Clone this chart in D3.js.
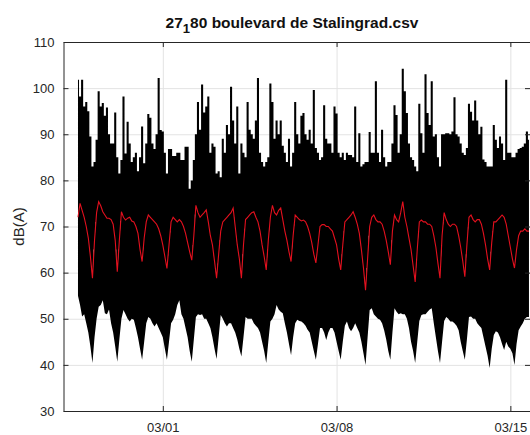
<!DOCTYPE html>
<html>
<head>
<meta charset="utf-8">
<script src="https://cdn.jsdelivr.net/npm/d3@7"></script>
<style>
body { margin: 0; background: #fff; }
svg text { font-family: "Liberation Sans", Arial, sans-serif; }
</style>
</head>
<body>
<div id="chart"></div>
<script>
// samples every 2 hours, starting 25 Feb 14:00
var startTime = new Date(2019, 1, 25, 14);
var stepHours = 2;

// upper edge of the raw signal, dB(A)
var hiDb = [101.8, 98.2, 101.8, 96, 97,
  95, 89.5, 83, 84, 88.8, 99.3, 96, 96.8, 94, 95.8, 90, 88,
  88, 94.7, 85, 81.5, 84.4, 98.2, 85.8, 92.7, 88, 84, 85, 86,
  82, 85, 91.7, 83.7, 88, 94.4, 93.6, 88, 86.8, 90, 102.2, 90.9,
  90.6, 86, 81.5, 86.8, 86.8, 85.3, 85.3, 86, 86, 84.4, 84.4, 87.3,
  87.3, 78.2, 80, 84.4, 90, 97, 91, 100.8, 94.7, 96, 98.2, 86,
  88, 87.3, 81.5, 82, 80.7, 89, 86, 92, 90, 100.3, 93, 88,
  96, 81.5, 88, 86, 85, 97, 91, 90, 89, 93, 102.2, 86,
  84, 83, 84, 85, 101, 97, 89, 93, 90, 93, 87.5, 86,
  84, 89, 83, 86, 97, 90, 88, 94, 94.6, 90, 88.8, 91,
  88, 99.6, 87, 86, 84.4, 85, 96.3, 89, 88, 88, 86, 96,
  94.5, 86, 85, 86, 84.4, 86, 85.5, 85.5, 85, 96, 84, 90.2,
  83, 83.5, 84, 84, 90.5, 86, 86, 101.5, 86, 84, 91, 85,
  83, 84, 84, 88, 96.3, 94.2, 86, 90, 104.2, 99.3, 94.6, 88,
  85, 84.4, 83, 82, 96.6, 90.2, 86, 103, 94.6, 92, 101.5, 89.5,
  90, 85, 83, 90, 90, 90.2, 90.2, 90, 90.6, 98, 90, 89.5,
  88, 86, 85.5, 87, 96.6, 94.9, 93, 97.3, 93, 90, 91.6, 84.5,
  84, 83, 83, 83, 92, 88.8, 87, 89.5, 88, 84.4, 101.8, 86,
  86, 85, 85, 86, 86.8, 87, 87.3, 88, 90.6, 88.8];

// lower edge of the raw signal, dB(A)
var loDb = [55, 53, 50.5, 51, 49,
  47, 44, 40.4, 46, 50, 52.6, 53, 54, 51.2, 51, 52, 49,
  47, 44, 40.7, 45.5, 50, 51.9, 51, 50, 49.4, 50, 49.8, 48,
  46, 43.5, 41.1, 45, 49, 50.4, 50, 49, 48.3, 49, 48, 47,
  46, 43.5, 41.1, 45, 49, 49.8, 51, 53, 54, 51, 50, 48,
  46, 43, 40.7, 45.5, 50.4, 51, 50.8, 51, 50, 50, 49, 48,
  46, 43.5, 41.3, 46, 50.8, 50, 49, 48.3, 49, 49, 48, 47,
  45.5, 43.5, 41.8, 46, 50.4, 50, 50, 50, 49, 48.5, 48, 47,
  45, 43, 40.4, 45, 49.4, 50, 51, 53, 52, 51.5, 51.2, 49,
  47, 44.5, 42.1, 46, 49, 49.8, 49.5, 49.4, 49, 48.5, 47.6, 47,
  45, 43, 41.1, 44.5, 48, 48, 47, 45.4, 47, 48, 48, 47,
  45, 43, 41.1, 45, 48.5, 49.4, 48, 47.3, 48, 49, 48, 47,
  45, 42.5, 40, 46, 51.9, 52.3, 51, 50.5, 50, 49.8, 49, 47.5,
  45.5, 43, 41.1, 47, 52.3, 51.5, 51, 51.2, 51, 51, 50, 48,
  45, 43, 40.4, 45, 49.5, 50.8, 51, 51, 51.5, 52, 52.3, 49,
  46, 43, 40.4, 45, 49.5, 50.4, 50, 49.4, 49.4, 49, 48.5, 47.5,
  45, 43, 41.1, 45.5, 50.4, 50.5, 50, 50, 49, 48.5, 48, 46,
  44, 42, 39.3, 43.5, 46.5, 47.3, 47, 46, 44.5, 43.2, 45, 44,
  43.5, 42.5, 40, 44.5, 47.5, 48.3, 49, 50, 50.4, 50.4];

// smoothed level (red), dB(A)
var avgDb = [72, 75, 73.5, 72, 70,
  67.5, 63.5, 58.8, 67, 73, 75.4, 74.5, 73.2, 72.5, 71.8, 71.8, 71.5,
  70.5, 67, 60.2, 67, 73.2, 72, 71.4, 71.8, 72, 71.2, 71, 70,
  68.5, 65, 62.4, 67.5, 71, 72.5, 72, 71.5, 71, 70.5, 69.5, 68,
  66, 63.5, 60.9, 66, 71, 72, 71.5, 71, 71.5, 71, 70, 68.5,
  66.5, 64.5, 62.7, 68, 74.6, 73, 72, 72.5, 73, 73.6, 71, 68,
  66, 62.5, 58.8, 64, 69, 71, 71.5, 72, 72.5, 73, 74, 70,
  66, 63, 58.8, 66, 71.5, 72, 72.5, 73, 73.2, 72, 71, 69,
  66, 63.5, 60.6, 67, 72, 74.6, 73, 72.5, 73.5, 74, 71.5, 69,
  67, 64.5, 62.4, 68, 72.5, 72, 71.5, 71.2, 71.4, 71, 70, 68.5,
  66.5, 64, 62.1, 66, 70, 70.4, 70.4, 70, 70, 69.5, 69, 67.5,
  66, 63, 60.6, 66, 71, 71.5, 72, 72.5, 73.2, 72, 70.5, 68.5,
  65, 61, 56.2, 63, 70, 72, 72.5, 71.5, 71, 71, 70.5, 69,
  67, 64.5, 61.7, 69, 72.5, 71.5, 71, 73, 75.4, 72, 70, 67.5,
  65, 61.5, 58, 65, 71, 71.4, 71, 71, 70.5, 70.5, 70, 68,
  65.5, 62, 58.8, 68, 73, 71.5, 70.5, 70, 70.5, 70.5, 70, 68,
  65.5, 62.5, 59.1, 66, 72, 72.5, 71.5, 71, 71.5, 71.5, 70.5, 68.5,
  66, 63, 60.6, 66.5, 71, 71, 71.5, 72, 72.5, 72, 70.5, 68,
  65.5, 63, 61, 65, 68, 69, 69, 69.5, 69, 69];

var yTicks = [30, 40, 50, 60, 70, 80, 90, 100, 110];
var xTicks = [new Date(2019, 2, 1), new Date(2019, 2, 8), new Date(2019, 2, 15)];
var xDomain = [new Date(2019, 1, 25), new Date(2019, 2, 15, 19)];

var width = 530, height = 435;
var plotLeft = 63.5, plotRight = 530, plotTop = 42, plotBottom = 411;
var axisColor = "#262626";
var gridColor = "#e3e3e3";

var svg = d3.select("#chart").append("svg")
    .attr("width", width)
    .attr("height", height);

var x = d3.scaleTime().domain(xDomain).range([plotLeft, plotRight]);
var y = d3.scaleLinear().domain([30, 110]).range([plotBottom, plotTop]);

var timeAt = function(i){ return d3.timeHour.offset(startTime, i * stepHours); };

// grid
svg.append("g")
    .attr("class", "grid")
    .attr("transform", "translate(0," + plotBottom + ")")
    .call(d3.axisBottom(x).tickValues(xTicks).tickSize(-(plotBottom - plotTop)).tickFormat(""));
svg.append("g")
    .attr("class", "grid")
    .attr("transform", "translate(" + plotLeft + ",0)")
    .call(d3.axisLeft(y).tickValues(yTicks).tickSize(-(plotRight - plotLeft)).tickFormat(""));
svg.selectAll(".grid .domain").remove();
svg.selectAll(".grid line").attr("stroke", gridColor);

// raw signal band: smooth lower half, spiky upper half
var lowerBand = d3.area()
    .x(function(d, i){ return x(timeAt(i)); })
    .y0(function(d){ return y(d); })
    .y1(function(d, i){ return y(avgDb[i]); });

var upperBand = d3.area()
    .curve(d3.curveStep)
    .x(function(d, i){ return x(timeAt(i)); })
    .y0(function(d, i){ return y(avgDb[i] - 2); })
    .y1(function(d){ return y(d); });

svg.append("path")
    .datum(loDb)
    .attr("d", lowerBand)
    .attr("fill", "#000");

svg.append("path")
    .datum(hiDb)
    .attr("d", upperBand)
    .attr("fill", "#000");

// smoothed level
var avgLine = d3.line()
    .x(function(d, i){ return x(timeAt(i)); })
    .y(function(d){ return y(d); });

svg.append("path")
    .datum(avgDb)
    .attr("d", avgLine)
    .attr("fill", "none")
    .attr("stroke", "#e3101e")
    .attr("stroke-width", 1.1);

// axes with inward ticks
var axes = svg.append("g").attr("class", "axes");
axes.append("g")
    .attr("transform", "translate(0," + plotBottom + ")")
    .call(d3.axisBottom(x).tickValues(xTicks).tickSizeInner(-5).tickSizeOuter(0)
        .tickPadding(12).tickFormat(d3.timeFormat("%m/%d")));
axes.append("g")
    .attr("transform", "translate(" + plotLeft + ",0)")
    .call(d3.axisLeft(y).tickValues(yTicks).tickSizeInner(-5).tickSizeOuter(0).tickPadding(9));
axes.append("g")
    .attr("transform", "translate(0," + plotTop + ")")
    .call(d3.axisTop(x).tickValues(xTicks).tickSizeInner(-5).tickSizeOuter(0).tickFormat(""));
axes.append("g")
    .attr("transform", "translate(" + plotRight + ",0)")
    .call(d3.axisRight(y).tickValues(yTicks).tickSizeInner(-5).tickSizeOuter(0).tickFormat(""));

axes.selectAll(".domain").attr("stroke", axisColor);
axes.selectAll(".tick line").attr("stroke", axisColor);
axes.selectAll(".tick text")
    .attr("fill", axisColor)
    .attr("font-size", "13px");

// labels
svg.append("text")
    .attr("transform", "translate(19," + ((plotTop + plotBottom) / 2) + ") rotate(-90)")
    .attr("text-anchor", "middle")
    .attr("dy", "0.35em")
    .attr("font-size", "15px")
    .attr("fill", axisColor)
    .text("dB(A)");

var title = svg.append("text")
    .attr("x", 292)
    .attr("y", 28)
    .attr("text-anchor", "middle")
    .attr("font-size", "15.5px")
    .attr("font-weight", "bold")
    .attr("fill", "#111");
title.append("tspan").text("27");
title.append("tspan").attr("dy", 5).attr("font-size", "13px").text("1");
title.append("tspan").attr("dy", -5).text("80 boulevard de Stalingrad.csv");
</script>
</body>
</html>
